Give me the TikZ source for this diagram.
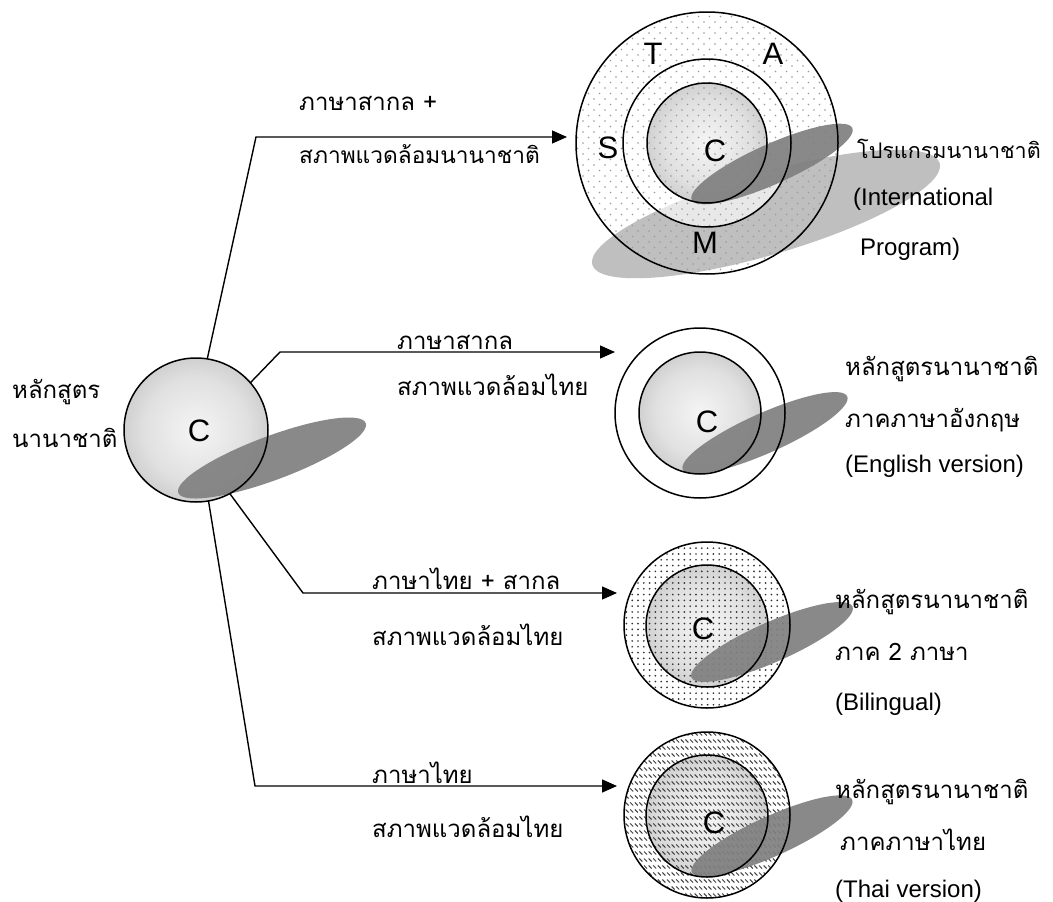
\documentclass[tikz,border=0pt]{standalone}
\usepackage{fontspec}
\setmainfont{Liberation Sans}
\newfontfamily\thaifont[Script=Thai]{Loma}
\usetikzlibrary{arrows.meta,patterns,patterns.meta}
\pgfdeclarelayer{bg}
\pgfsetlayers{bg,main}
\pgfdeclareradialshading{cball}{\pgfpoint{0bp}{0bp}}{color(0bp)=(gray!8); color(18bp)=(gray!24); color(50bp)=(gray!82)}
\tikzdeclarepattern{
  name=sparsedots, type=uncolored,
  bounding box={(-1pt,-1pt) and (12pt,12pt)},
  tile size={(11pt,11pt)},
  code={\fill (0pt,0pt) circle (0.85pt); \fill (5.5pt,5.5pt) circle (0.85pt);}
}
\tikzdeclarepattern{
  name=densedots, type=uncolored,
  bounding box={(-1pt,-1pt) and (6.8pt,6.8pt)},
  tile size={(5.8pt,5.8pt)},
  code={\fill (0pt,0pt) circle (0.95pt);}
}
\tikzdeclarepattern{
  name=hatchdash, type=uncolored,
  bounding box={(-1pt,-3pt) and (6pt,3pt)},
  tile size={(4.6pt,7pt)},
  code={\draw[line width=1pt] (0pt,1.5pt) -- (3pt,-1.5pt);}
}
\tikzset{
  ring/.style={circle, draw, line width=1.5pt, inner sep=0pt, outer sep=0pt},
  conn/.style={line width=1.4pt, -{Triangle[length=15pt,width=13pt]}},
  thl/.style={font=\thaifont\fontsize{24}{28}\selectfont, inner sep=0pt, anchor=base west},
  latl/.style={font=\fontsize{24}{28}\selectfont, inner sep=0pt, anchor=base west},
  bigl/.style={font=\fontsize{31}{36}\selectfont, inner sep=0pt, anchor=center},
  darksh/.style={fill=gray, fill opacity=0.92},
  lightsh/.style={fill=gray!50},
}
\begin{document}
\begin{tikzpicture}[x=1pt,y=-1pt]
\useasboundingbox (0,0) rectangle (1053,902);

% circle outlines (nodes)
\node[ring, minimum size=144] (main) at (196,430) {};
\node[ring, minimum size=262] (topo) at (707,143) {};
\node[ring, minimum size=168] (topm) at (707,143) {};
\node[ring, minimum size=120] (topi) at (707,143) {};
\node[ring, minimum size=170] (engo) at (700,413) {};
\node[ring, minimum size=122] (engi) at (700,413) {};
\node[ring, minimum size=166] (bilo) at (707,625) {};
\node[ring, minimum size=122] (bili) at (707,626) {};
\node[ring, minimum size=166] (thao) at (707,815) {};
\node[ring, minimum size=122] (thai) at (707,816) {};

% fills and shadows
\begin{pgfonlayer}{bg}
  \fill[white] (0,0) rectangle (1053,902);
  % main
  \fill[shading=cball] (main.center) circle (72);
  \fill[darksh, rotate around={20.4:(272,458)}] (272,458) ellipse (100 and 22);
  % top
  \fill[white] (topo.center) circle (131);
  \fill[lightsh, rotate around={16.3:(766,214)}] (766,214) ellipse (181 and 41);
  \fill[white, fill opacity=0.65] (topm.center) circle (84);
  \fill[shading=cball] (topi.center) circle (60);
  \fill[pattern=sparsedots, pattern color=gray!80] (topo.center) circle (131);
  \fill[darksh, rotate around={24.1:(772,164)}] (772,164) ellipse (88 and 20);
  % english
  \fill[white] (engo.center) circle (85);
  \fill[shading=cball] (engi.center) circle (61);
  \fill[darksh, rotate around={24:(765,433)}] (765,433) ellipse (90 and 20);
  % bilingual
  \fill[white] (bilo.center) circle (83);
  \fill[shading=cball] (bili.center) circle (61);
  \fill[pattern=densedots, pattern color=black!80] (bilo.center) circle (83);
  \fill[darksh, rotate around={23.8:(772,642)}] (772,642) ellipse (88 and 20);
  % thai
  \fill[white] (thao.center) circle (83);
  \fill[shading=cball] (thai.center) circle (61);
  \fill[pattern=hatchdash, pattern color=black!75] (thao.center) circle (83);
  \fill[darksh, rotate around={24.4:(772,836)}] (772,836) ellipse (88 and 20);
\end{pgfonlayer}

% letters
\node[bigl] (cmain) at (199,431) {C};
\node[bigl] (ctop) at (715,151) {C};
\node[bigl] (ceng) at (707,422) {C};
\node[bigl] (cbil) at (703,629) {C};
\node[bigl] (ctha) at (714,823) {C};
\node[bigl] (ls) at (608,148) {S};
\node[bigl] (lt) at (653,54) {T};
\node[bigl] (la) at (773,54) {A};
\node[bigl] (lm) at (705,243) {M};

% connectors
\coordinate (b1) at (256,137); \coordinate (e1) at (567,137);
\coordinate (b2) at (280,352); \coordinate (e2) at (615,352);
\coordinate (b3) at (303,593); \coordinate (e3) at (617,593);
\coordinate (b4) at (255,786); \coordinate (e4) at (617,786);
\draw[conn] (main.81) -- (b1) -- (e1);
\draw[conn] (main.41) -- (b2) -- (e2);
\draw[conn] (main.-62) -- (b3) -- (e3);
\draw[conn] (main.-80) -- (b4) -- (e4);

% left label
\node[thl] (m1) at (12,398) {หลักสูตร};
\node[thl] (m2) at (12,447) {นานาชาติ};

% connector labels
\node[thl] (a1) at (299,110) {ภาษาสากล +};
\node[thl, font=\thaifont\fontsize{22.7}{27}\selectfont] (a2) at (299,163) {สภาพแวดล้อมนานาชาติ};
\node[thl] (c1) at (397,349) {ภาษาสากล};
\node[thl] (c2) at (397,395) {สภาพแวดล้อมไทย};
\node[thl] (d1) at (372,589) {ภาษาไทย + สากล};
\node[thl] (d2) at (372,645) {สภาพแวดล้อมไทย};
\node[thl] (f1) at (372,783) {ภาษาไทย};
\node[thl] (f2) at (372,837) {สภาพแวดล้อมไทย};

% right labels
\node[thl, font=\thaifont\fontsize{21.5}{26}\selectfont] (r11) at (857,158) {โปรแกรมนานาชาติ};
\node[latl] (r12) at (853,205) {(International};
\node[latl] (r13) at (860,255) {Program)};
\node[thl] (r21) at (845,375) {หลักสูตรนานาชาติ};
\node[thl] (r22) at (845,427) {ภาคภาษาอังกฤษ};
\node[latl] (r23) at (845,472) {(English version)};
\node[thl] (r31) at (835,608) {หลักสูตรนานาชาติ};
\node[thl] (r32) at (835,660) {ภาค 2 ภาษา};
\node[latl] (r33) at (835,710) {(Bilingual)};
\node[thl] (r41) at (835,798) {หลักสูตรนานาชาติ};
\node[thl] (r42) at (840,850) {ภาคภาษาไทย};
\node[latl] (r43) at (835,897) {(Thai version)};
\end{tikzpicture}
\end{document}
